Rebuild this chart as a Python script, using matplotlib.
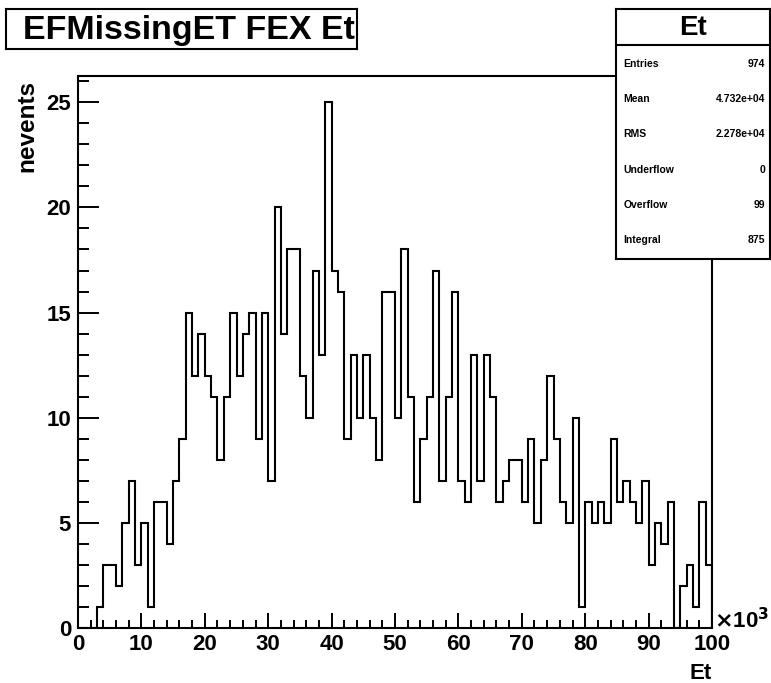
import numpy as np
import matplotlib
matplotlib.use("Agg")
import matplotlib.pyplot as plt
from matplotlib.ticker import MultipleLocator

plt.rcParams["font.family"] = ["Liberation Sans", "DejaVu Sans"]
plt.rcParams["font.weight"] = "bold"

# Et histogram, 100 bins over 0..100 (x10^3)
BIN_EDGES = np.arange(0, 101, 1)
COUNTS = [
    0, 0, 0, 1, 3, 3, 2, 5, 7, 3,
    5, 1, 6, 6, 4, 7, 9, 15, 12, 14,
    12, 11, 8, 11, 15, 12, 14, 15, 9, 15,
    7, 20, 14, 18, 18, 12, 10, 17, 13, 25,
    17, 16, 9, 13, 10, 13, 10, 8, 16, 16,
    10, 18, 11, 6, 9, 11, 17, 7, 11, 16,
    7, 6, 13, 7, 13, 11, 6, 7, 8, 8,
    6, 9, 5, 8, 12, 9, 6, 5, 10, 1,
    6, 5, 6, 5, 9, 6, 7, 6, 5, 7,
    3, 5, 4, 6, 0, 2, 3, 1, 6, 3,
]
X_TICKS = [0, 10, 20, 30, 40, 50, 60, 70, 80, 90, 100]
Y_TICKS = [0, 5, 10, 15, 20, 25]

STAT_NAMES = ["Entries", "Mean", "RMS", "Underflow", "Overflow", "Integral"]
STAT_VALUES = ["974", "4.732e+04", "2.278e+04", "0", "99", "875"]

W, H = 771, 683
fig = plt.figure(figsize=(W / 100, H / 100), dpi=100)
fig.patch.set_facecolor("white")

def fbox(x0, y0, x1, y1):
    # pixel box (top-left origin) -> figure fraction rect
    return [x0 / W, 1 - y1 / H, (x1 - x0) / W, (y1 - y0) / H]

ax = fig.add_axes(fbox(78, 76, 712, 628))
ax.stairs(COUNTS, BIN_EDGES, color="black", linewidth=1.5)
ax.set_xlim(0, 100)
ax.set_ylim(0, max(COUNTS) * 1.05)

ax.set_xticks(X_TICKS)
ax.set_yticks(Y_TICKS)
ax.xaxis.set_minor_locator(MultipleLocator(2))
ax.yaxis.set_minor_locator(MultipleLocator(1))
ax.tick_params(axis="x", which="major", direction="in", length=11, width=1.4,
               labelsize=16, pad=4)
ax.tick_params(axis="x", which="minor", direction="in", length=6, width=1.4)
ax.tick_params(axis="y", which="major", direction="in", length=15, width=1.4,
               labelsize=16, pad=5)
ax.tick_params(axis="y", which="minor", direction="in", length=8, width=1.4)
for lab in ax.get_xticklabels() + ax.get_yticklabels():
    lab.set_fontweight("bold")
for sp in ax.spines.values():
    sp.set_linewidth(1.5)

fig.text(27 / W, 1 - 80 / H, "nevents", fontsize=17.5, fontweight="bold",
         rotation=90, ha="center", va="top")
ax.set_xlabel("Et", fontsize=16, fontweight="bold", loc="right", labelpad=6)
fig.text(714 / W, 1 - 628 / H, r"$\times$10$^{\mathbf{3}}$", fontsize=16,
         fontweight="bold", ha="left", va="baseline")

# title box, text clipped at the box edge
tax = fig.add_axes(fbox(6, 9, 357, 49))
tax.set_xticks([])
tax.set_yticks([])
for sp in tax.spines.values():
    sp.set_linewidth(1.5)
tax.text(0.048, 0.46, "EFMissingET FEX Et", transform=tax.transAxes,
         fontsize=24.5, fontweight="bold", ha="left", va="center", clip_on=True)

# stats box
sax = fig.add_axes(fbox(616, 9, 770, 259))
sax.set_facecolor("white")
sax.set_xlim(0, 1)
sax.set_ylim(0, 1)
sax.set_xticks([])
sax.set_yticks([])
for sp in sax.spines.values():
    sp.set_linewidth(1.5)
div = 1 - (45 - 9) / (259 - 9)
sax.axhline(div, color="black", linewidth=1.5)
sax.text(0.5, 1 - (28 - 9) / 250, "Et", fontsize=20, fontweight="bold",
         ha="center", va="center")
for i, (name, val) in enumerate(zip(STAT_NAMES, STAT_VALUES)):
    yy = 1 - (64 + 35.2 * i - 9) / 250
    sax.text(0.05, yy, name, fontsize=7.5, fontweight="bold", ha="left", va="center")
    sax.text(0.97, yy, val, fontsize=7.5, fontweight="bold", ha="right", va="center")

fig.savefig("out.png", dpi=100)
